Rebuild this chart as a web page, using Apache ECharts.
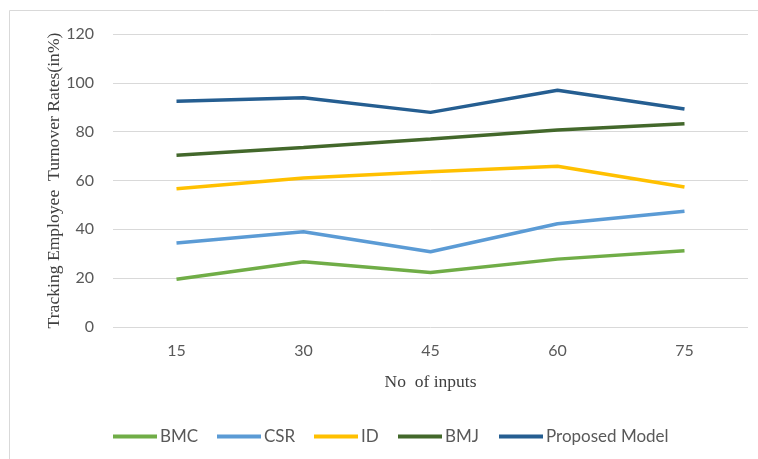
<!DOCTYPE html>
<html>
<head>
<meta charset="utf-8">
<script src="https://cdn.jsdelivr.net/npm/echarts@6/dist/echarts.min.js"></script>
<style>
html, body { margin: 0; padding: 0; background: #fff; }
#chart { width: 758px; height: 459px; }
</style>
</head>
<body>
<div id="chart"></div>
<script>
// 数据
var inputs = ['15', '30', '45', '60', '75'];
var bmc = [19.6, 26.7, 22.3, 27.8, 31.2];
var csr = [34.4, 39.0, 30.8, 42.3, 47.4];
var idv = [56.6, 61.0, 63.6, 65.8, 57.3];
var bmj = [70.3, 73.5, 77.0, 80.7, 83.2];
var proposed = [92.5, 93.9, 87.9, 97.0, 89.3];
var seriesNames = ['BMC', 'CSR', 'ID', 'BMJ', 'Proposed Model'];

var myChart = echarts.init(document.getElementById('chart'));

function line(name, data, color) {
    return {
        name: name,
        type: 'line',
        data: data,
        symbol: 'none',
        lineStyle: { width: 3.5, color: color },
        itemStyle: { color: color }
    };
}

// 图例每项单独放置
var legendLeft = [113, 217, 314, 398, 499];
var legends = seriesNames.map(function (n, i) {
    return {
        left: legendLeft[i],
        top: 428,
        padding: 0,
        itemWidth: 44,
        itemHeight: 4,
        icon: 'rect',
        textStyle: { color: '#595959', fontSize: 17, fontFamily: 'Lato', padding: [0, 0, 0, -2] },
        data: [n]
    };
});

var option = {
    animation: false,
    graphic: [{
        type: 'rect',
        shape: { x: 9.5, y: 10.5, width: 760, height: 460 },
        style: { fill: 'none', stroke: '#d9d9d9', lineWidth: 1 }
    }],
    grid: { left: 113, right: 10, top: 34, bottom: 132 },
    legend: legends,
    xAxis: {
        type: 'category',
        data: inputs,
        boundaryGap: true,
        name: 'No  of inputs',
        nameLocation: 'middle',
        nameGap: 46,
        nameTextStyle: { fontFamily: 'Liberation Serif', fontSize: 17.5, color: '#404040' },
        axisLine: { show: false },
        axisTick: { show: false },
        axisLabel: { color: '#595959', fontSize: 16, fontFamily: 'Lato', margin: 16 }
    },
    yAxis: {
        type: 'value',
        min: 0,
        max: 120,
        interval: 20,
        name: 'Tracking Employee  Turnover Rates(in%)',
        nameLocation: 'middle',
        nameGap: 50,
        nameMoveOverlap: false,
        nameTextStyle: { fontFamily: 'Liberation Serif', fontSize: 17.6, color: '#404040' },
        axisLine: { show: false },
        axisTick: { show: false },
        axisLabel: { color: '#595959', fontSize: 16, fontFamily: 'Lato', margin: 19 },
        splitLine: { lineStyle: { color: '#d9d9d9', width: 1 } }
    },
    series: [
        line('BMC', bmc, '#70AD47'),
        line('CSR', csr, '#5B9BD5'),
        line('ID', idv, '#FFC000'),
        line('BMJ', bmj, '#43682B'),
        line('Proposed Model', proposed, '#255E91')
    ]
};

myChart.setOption(option);
</script>
</body>
</html>
